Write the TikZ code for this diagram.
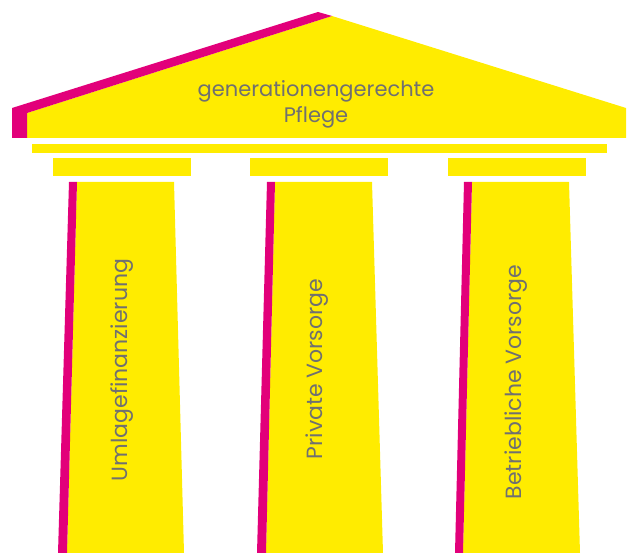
\documentclass[tikz,border=0pt]{standalone}
\usepackage{fontspec}
\setmainfont{Poppins}
\definecolor{tyellow}{RGB}{255,236,0}
\definecolor{tmagenta}{RGB}{226,0,122}
\definecolor{tgray}{RGB}{112,112,112}
\begin{document}
\begin{tikzpicture}[x=1pt,y=-1pt,
  yel/.style={fill=tyellow,draw=none},
  mag/.style={fill=tmagenta,draw=none},
  lbl/.style={text=tgray,inner sep=0pt,font=\fontsize{21}{26}\selectfont},
  collbl/.style={text=tgray,inner sep=0pt,rotate=90,font=\fontsize{22}{26}\selectfont}]
\useasboundingbox (0,0) rectangle (627,553);
% roof
\fill[yel] (27,138) -- (27,113) -- (332,16) -- (626,108) -- (626,138) -- cycle;
\fill[mag] (12,138) -- (12,108) -- (318,12) -- (332,16) -- (27,113) -- (27,138) -- cycle;
% beam
\fill[yel] (32,144) rectangle (607,153);
% capitals
\fill[yel] (53,158) rectangle (191,176);
\fill[yel] (250,158) rectangle (388,176);
\fill[yel] (448,158) rectangle (586,176);
% columns
\fill[yel] (77,182) -- (174,182) -- (184,553) -- (67,553) -- cycle;
\fill[mag] (69,182) -- (77,182) -- (67,553) -- (58,553) -- cycle;
\fill[yel] (275,182) -- (372,182) -- (383,553) -- (266,553) -- cycle;
\fill[mag] (267,182) -- (275,182) -- (266,553) -- (257,553) -- cycle;
\fill[yel] (472,182) -- (569,182) -- (580,553) -- (463,553) -- cycle;
\fill[mag] (464,182) -- (472,182) -- (463,553) -- (455,553) -- cycle;
% texts
\node[lbl,align=center] (roof) at (316,104) {generationengerechte\\Pflege};
\node[collbl] (c1) at (122,370) {Umlagefinanzierung};
\node[collbl] (c2) at (317,369) {Private Vorsorge};
\node[collbl] (c3) at (516,382) {Betriebliche Vorsorge};
\end{tikzpicture}
\end{document}
